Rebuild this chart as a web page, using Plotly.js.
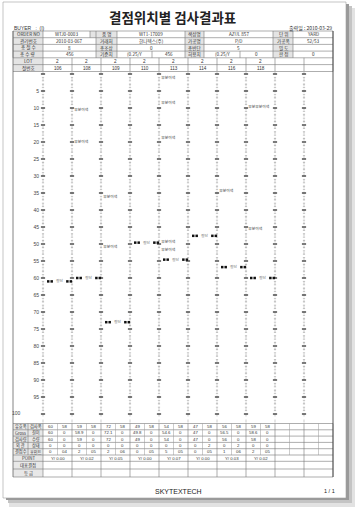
<!DOCTYPE html>
<html><head><meta charset="utf-8">
<script src="https://cdn.plot.ly/plotly-3.0.1.min.js"></script>
<style>html,body{margin:0;padding:0;background:#fff}</style>
</head><body><div id="chart" style="width:355px;height:510px"></div>
<script>
// ---------------- DATA ----------------
const titleText = "결점위치별 검사결과표";
const buyerText = "BUYER   :  (I)";
const printDate = "출력일 : 2010-03-29";
const lotNos  = ["2","2","2","2","2","2","2","2"];
const rollNos = ["106","108","109","110","113","114","116","118"];
const yTicks  = [5,10,15,20,25,30,35,40,45,50,55,60,65,70,75,80,85,90,95];
// defects: column (1-based roll), position (yard), name
const defectCol  = [2,2,3,3,5,5,5,5,5,7,8,8];
const defectPos  = [10.6,19.9,36.3,50.8,1.3,8.6,18.9,49.3,51.8,34.3,9.6,45.6];
const defectName = ["부분이색","부분이색","부분이색","부분이색","부분이색","부분이색","부분이색","부분이색","부분이색","부분이색","부분부분이색","부분이색"];
// end of each roll
const endCol = [1,2,3,4,5,6,7,8];
const endPos = [61,60,73,49.6,54.6,47.6,56.8,60];
const endLabel = "절단";
// header table
const hdrRow1 = ["ORDER NO","WTJ0-0003","","품 명","WT1-17009","색상명","AZUL 857","단 위","YARD"];
const hdrRow2 = ["관리번호","2010-03-067","거래처","한나텍스(주)","가공명","P/D","가공폭","52/53"];
const hdrRow3 = ["총 절 수","8","총조상","0","총반단","5","밀 도",""];
const hdrRow4 = ["총 수 량","456","기준치","(0.25/Y","456","허용치","(0.25/Y","0","판 정","0"];
// footer table
const footLab1 = ["유효폭","Gross","검사량","외 관","결점수"];
const footLab2 = ["검사폭","길이","수량","상태","포인트"];
const footRow1 = [["60","58"],["59","58"],["72","58"],["49","58"],["54","58"],["47","58"],["56","58"],["59","58"]];
const footRow2 = [["60","0"],["58.9","0"],["72.1","0"],["49.8","0"],["54.6","0"],["47","0"],["56.5","0"],["58.6","0"]];
const footRow3 = [["60","0"],["59","0"],["72","0"],["49","0"],["54","0"],["47","0"],["56","0"],["58","0"]];
const footRow4 = [["0","0"],["0","0"],["0","0"],["0","0"],["0","0"],["0","2"],["0","2"],["0","0"]];
const footRow5 = [["0","04"],["2","05"],["2","06"],["0","05"],["5","05"],["0","05"],["1","06"],["2","05"]];
const pointVals = ["Y/ 0.00","Y/ 0.02","Y/ 0.05","Y/ 0.00","Y/ 0.07","Y/ 0.00","Y/ 0.03","Y/ 0.02"];
const footLab3 = ["POINT","대표결점","등 급"];
const brandText = "SKYTEXTECH";
const pageText = "1 / 1";

// ---------------- LAYOUT HELPERS ----------------
const FONT = "'Noto Sans CJK KR', 'Liberation Sans', sans-serif";
const NUMF = "'Liberation Sans', 'Noto Sans CJK KR', sans-serif";
const L=43, R=333, T=74, B=414;
const px = x => (x-L)/(R-L);
const py = y => (B-y)/(B-T);
const shapes=[], ann=[];
function line(x0,y0,x1,y1,color,width,dash){
  shapes.push({type:'line',xref:'paper',yref:'paper',x0:px(x0),y0:py(y0),x1:px(x1),y1:py(y1),
    line:{color:color||'#666',width:width||0.7,dash:dash||'solid'},layer:'below'});
}
function rect(x0,y0,x1,y1,fill,lc,lw){
  shapes.push({type:'rect',xref:'paper',yref:'paper',x0:px(x0),y0:py(y0),x1:px(x1),y1:py(y1),
    fillcolor:fill,line:{color:lc||'rgba(0,0,0,0)',width:lw||0},layer:'below'});
}
function txt(s,x,y,size,anchor,color,family,weight){
  ann.push({xref:'paper',yref:'paper',x:px(x),y:py(y),text:s,showarrow:false,
    xanchor:anchor||'center',yanchor:'middle',borderpad:0,
    font:{size:size,color:color||'#333',family:family||FONT,weight:weight||400}});
}

// page + shadow
rect(9,8,355,507,'#e2e2e2');
rect(8,6,352,503,'#c4c4c4');
rect(6,4,349,500,'#9a9a9a');
rect(3,2,346,498,'#ffffff','#a0a0a0',0.6);

// title, buyer, date
txt(titleText,172,17,13.5,'center','#222',FONT,700);
txt(buyerText,13,28,5,'left','#333',NUMF);
txt(printDate,333,28,5,'right','#333',FONT);

// header table
const hdrY = [31,37.7,44.4,51.1,57.8,64.6,71.5];
const hdrRows = [hdrRow1,hdrRow2,hdrRow3,hdrRow4];
const hdrEdges = [
  [13,43,90,96,117,185,204,273,293,333],
  [13,43,96,117,185,204,273,293,333],
  [13,43,96,117,185,204,273,293,333],
  [13,43,96,117,152,185,204,240,273,293,333]];
const hdrLabelIdx = [[0,2,3,5,7],[0,2,4,6],[0,2,4,6],[0,2,5,8]];
hdrRows.forEach((row,r)=>{
  const e = hdrEdges[r], y0=hdrY[r], y1=hdrY[r+1];
  row.forEach((s,i)=>{
    if (hdrLabelIdx[r].includes(i)) rect(e[i],y0,e[i+1],y1,'#e4e4e4');
    txt(s,(e[i]+e[i+1])/2,(y0+y1)/2,4.6,'center','#333',FONT);
  });
  e.forEach(x=>line(x,y0,x,y1,'#777',0.6));
});
// LOT and roll number rows
rect(13,hdrY[4],43,hdrY[6],'#e4e4e4');
txt("LOT",28,(hdrY[4]+hdrY[5])/2,4.6);
txt("절번호",28,(hdrY[5]+hdrY[6])/2,4.6);
for (let k=0;k<10;k++){
  const cx = 43+29*k+14.5;
  if (k<lotNos.length){
    txt(lotNos[k],cx,(hdrY[4]+hdrY[5])/2,4.6,'center','#333',NUMF);
    txt(rollNos[k],cx,(hdrY[5]+hdrY[6])/2,4.6,'center','#333',NUMF);
  }
}
for (let k=0;k<=10;k++) line(43+29*k,hdrY[4],43+29*k,hdrY[6],'#777',0.6);
hdrY.forEach(y=>line(13,y,333,y,'#777',0.6));

// grid column rulers (dotted lines)
for (let k=0;k<10;k++) line(43+29*k,71.5,43+29*k,423.5,'#c0c0c0',0.8,'dot');

// footer table
const fY = [423.5,429.8,436.1,442.4,448.7,455.0,461.3,469.0,477.0];
const fRows = [footRow1,footRow2,footRow3,footRow4,footRow5];
rect(13,fY[0],43,fY[8],'#e8e8e8');
fRows.forEach((row,r)=>{
  const cy=(fY[r]+fY[r+1])/2;
  txt(footLab1[r],20.5,cy,4.2);
  txt(footLab2[r],35.5,cy,4.2);
  row.forEach((pair,k)=>{
    txt(pair[0],43+29*k+7.25,cy,4.3,'center','#333',NUMF);
    txt(pair[1],43+29*k+21.75,cy,4.3,'center','#333',NUMF);
  });
});
pointVals.forEach((s,k)=>txt(s,43+29*k+14.5,(fY[5]+fY[6])/2,4.3,'center','#333',NUMF));
footLab3.forEach((s,i)=>txt(s,28,(fY[5+i]+fY[6+i])/2,4.4));
fY.forEach(y=>line(13,y,333,y,'#777',0.6));
line(28,fY[0],28,fY[5],'#777',0.6);
for (let k=0;k<=10;k++) line(43+29*k,fY[0],43+29*k,fY[8],'#777',0.6);
for (let k=0;k<10;k++) line(57.5+29*k,fY[0],57.5+29*k,fY[5],'#999',0.5);

// outer border
line(13,31,13,477,'#666',0.8);
line(333,31,333,477,'#444',0.9);

// footer text
txt(brandText,178,491,7,'center','#222',NUMF);
txt(pageText,329,491,5.5,'center','#222',NUMF);
// "100" label
txt("100",16,413,5,'center','#444',NUMF);

// ---------------- TRACES ----------------
const minX=[],minY=[],majX=[],majY=[];
for (let k=0;k<10;k++){
  for (let v=0; v<=100; v++){
    if (v%5===0){majX.push(k);majY.push(v);} else {minX.push(k);minY.push(v);}
  }
}
// end-marker squares around each end label
const sqOff = [-0.39,-0.27,0.27,0.39];
const sqX=[], sqY=[];
endCol.forEach((c,i)=>sqOff.forEach(o=>{sqX.push(c-0.5+0.07+o); sqY.push(endPos[i]);}));
const traces = [
  {type:'scatter',mode:'markers',x:minX,y:minY,cliponaxis:false,hoverinfo:'skip',
   marker:{symbol:'line-ew',size:1.6,line:{width:0.6,color:'#9a9a9a'}}},
  {type:'scatter',mode:'markers',x:majX,y:majY,cliponaxis:false,hoverinfo:'skip',
   marker:{symbol:'line-ew',size:3,line:{width:1.3,color:'#333'}}},
  {type:'scatter',mode:'text',x:defectCol.map(c=>c-1+0.08),y:defectPos,text:defectName,
   textposition:'middle right',cliponaxis:false,hoverinfo:'skip',
   textfont:{size:3.8,color:'#333',family:FONT}},
  {type:'scatter',mode:'text',x:endCol.map(c=>c-0.5+0.07),y:endPos,text:endCol.map(()=>endLabel),
   textposition:'middle center',cliponaxis:false,hoverinfo:'skip',
   textfont:{size:3.8,color:'#777',family:FONT}},
  {type:'scatter',mode:'markers',x:sqX,y:sqY,cliponaxis:false,hoverinfo:'skip',
   marker:{symbol:'square',size:2.5,color:'#111',line:{width:0}}}
];

const layout = {
  width:355,height:510,showlegend:false,
  margin:{l:L,r:355-R,t:T,b:510-B,pad:0},
  paper_bgcolor:'#ffffff',plot_bgcolor:'rgba(0,0,0,0)',
  xaxis:{range:[0,10],visible:false,fixedrange:true,automargin:false},
  yaxis:{range:[100,0],tickvals:yTicks,ticktext:yTicks.map(String),showgrid:false,zeroline:false,
    showline:false,ticks:'',ticklabelstandoff:3,tickfont:{size:5,color:'#444',family:NUMF},
    fixedrange:true,automargin:false},
  shapes:shapes,annotations:ann
};
Plotly.newPlot('chart',traces,layout,{staticPlot:true,displayModeBar:false});
</script></body></html>
